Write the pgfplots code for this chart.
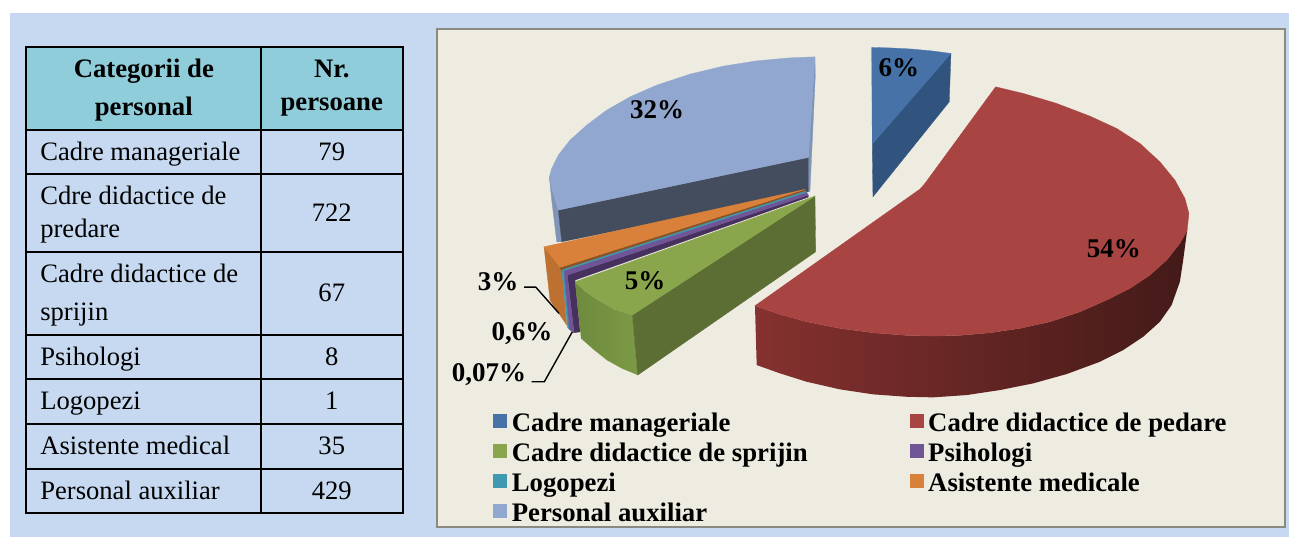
\documentclass[border=0pt]{standalone}
\usepackage{pgfplots}
\pgfplotsset{compat=1.18}
\usepackage{fontspec}
\setmainfont{Liberation Serif}
\definecolor{panel}{HTML}{C6D9F0}
\definecolor{chartbg}{HTML}{EEECE1}
\definecolor{frameg}{HTML}{8A8A80}
\definecolor{thead}{HTML}{90CDDB}
\definecolor{cblue}{HTML}{4672A8}
\definecolor{cblued}{HTML}{31547F}
\definecolor{cred}{HTML}{A84543}
\definecolor{credl}{HTML}{85312F}
\definecolor{credd}{HTML}{431A18}
\definecolor{cgreen}{HTML}{8AA64D}
\definecolor{cgreend}{HTML}{5C6E33}
\definecolor{cgreenl}{HTML}{6E8A3E}
\definecolor{cgreenm}{HTML}{7C9A45}
\definecolor{cpurple}{HTML}{6F5595}
\definecolor{cpurpled}{HTML}{45305E}
\definecolor{cteal}{HTML}{3F99B1}
\definecolor{corange}{HTML}{D9813A}
\definecolor{coranged}{HTML}{BD7030}
\definecolor{cbrown}{HTML}{8A5425}
\definecolor{clblue}{HTML}{92A7CF}
\definecolor{clblues}{HTML}{8094B8}
\definecolor{cslate}{HTML}{434D5E}
\newcommand{\poly}[2]{\addplot[forget plot, draw=#1, line width=0.3pt, fill=#1] coordinates {#2} --cycle;}
\newcommand{\tline}[1]{\addplot[forget plot, black, line width=2pt] coordinates {#1};}
\newcommand{\lab}[3]{\node[anchor=center, inner sep=0pt, font=\fontsize{27}{30}\selectfont\bfseries] at (axis cs:#1,#2) {#3};}
\newcommand{\tl}[3]{\node[anchor=base west, inner sep=0pt, font=\fontsize{26.6}{30}\selectfont] at (axis cs:#1,#2) {#3};}
\newcommand{\tc}[3]{\node[anchor=base, inner sep=0pt, font=\fontsize{26.6}{30}\selectfont] at (axis cs:#1,#2) {#3};}
\newcommand{\tb}[3]{\node[anchor=base, inner sep=0pt, font=\fontsize{26.7}{30}\selectfont\bfseries] at (axis cs:#1,#2) {#3};}
\begin{document}
\begin{tikzpicture}
\begin{axis}[
  width=1289pt, height=536pt, scale only axis,
  xmin=0, xmax=1289, ymin=0, ymax=536, y dir=reverse,
  hide axis, clip=false,
  legend cell align=left,
  legend columns=2,
  legend image code/.code={\fill[#1, draw=none] (0pt,-3pt) rectangle (14pt,11pt);},
  legend style={at={(0.3802,0.235)}, anchor=north west, draw=none, fill=none,
    font=\fontsize{26.75}{30}\selectfont\bfseries,
    nodes={inner sep=0pt, text height=19pt, text depth=6pt},
    row sep=5pt,
    /tikz/column 1/.style={column sep=4.5pt},
    /tikz/column 2/.style={column sep=102pt},
    /tikz/column 3/.style={column sep=4.5pt}},
]
% backgrounds
\poly{white}{(0,0)(1289,0)(1289,536)(0,536)}
\poly{panel}{(10,13)(1289,13)(1289,536)(10,536)}
\addplot[forget plot, draw=frameg, line width=2pt, fill=chartbg] coordinates {(437,29)(1285,29)(1285,527)(437,527)} --cycle;
% table
\poly{thead}{(26,47)(403,47)(403,130)(26,130)}
\tline{(26,47)(403,47)(403,512.5)(26,512.5)(26,46)}
\tline{(261,47)(261,512.5)}
\tline{(26,130)(403,130)}
\tline{(26,174)(403,174)}
\tline{(26,252)(403,252)}
\tline{(26,335)(403,335)}
\tline{(26,379)(403,379)}
\tline{(26,424)(403,424)}
\tline{(26,469)(403,469)}
\tb{143.7}{77.5}{Categorii de}
\tb{143.7}{115.5}{personal}
\tb{331.7}{77.5}{Nr.}
\tb{331.7}{110.5}{persoane}
\tl{40}{160}{Cadre manageriale}
\tc{331.7}{160}{79}
\tl{40}{204}{Cdre didactice de}
\tl{40}{237}{predare}
\tc{331.7}{221.5}{722}
\tl{40}{282.5}{Cadre didactice de}
\tl{40}{320.5}{sprijin}
\tc{331.7}{301.5}{67}
\tl{40}{365.5}{Psihologi}
\tc{331.7}{365.5}{8}
\tl{40}{409.5}{Logopezi}
\tc{331.7}{409.5}{1}
\tl{40}{454.5}{Asistente medical}
\tc{331.7}{454.5}{35}
\tl{40}{499}{Personal auxiliar}
\tc{331.7}{499}{429}
% light blue slice: walls first
\poly{clblues}{(549.3,176.7)(551.7,200)(556.7,241.7)(561.7,241.7)(558.3,210)}
\poly{clblues}{(815,56.7)(815.3,76)(810,191)(808.3,191.7)(808.3,157.3)}
\poly{cslate}{(558.3,210)(808.3,157.3)(808.3,191.7)(561.7,241.7)}
\poly{clblue}{(815,56.7)(790,57.7)(756.7,60.7)(723.3,66)(690,74)(656.7,85)(630,96.7)(606.7,110)(586.7,125)(570,140)(558.3,155)(551.7,168.3)(549.3,176.7)(552,190)(558.3,210)(808.3,157.3)}
% blue slice
\poly{cblued}{(951,53.3)(949.3,101.7)(873,196.7)(872.3,144)}
\poly{cblue}{(871.7,47.3)(891,47.8)(911.7,48.9)(932,50.8)(951,53.3)(872.3,144)}
% red slice
\addplot[forget plot, draw=none, left color=credl, middle color=credd!88!credl, right color=credd] coordinates {(1187.3,230)(1180,243.3)(1166.7,260)(1150,275)(1130,288.3)(1106.7,300)(1080,311.7)(1050,321.7)(1020,328.3)(990,332.7)(960,335.3)(933.3,336)(906.7,335.3)(873.3,332.7)(840,328.3)(806.7,321.7)(780,314.3)(755,305.7)(756.7,365)(780,373.3)(806.7,381.7)(840,389.3)(873.3,394.3)(906.7,396.7)(933.3,397.3)(966.7,395)(1000,390)(1033.3,383.3)(1066.7,374)(1100,361.7)(1123.3,350)(1143.3,336.7)(1160,321.7)(1171.7,305)(1180,281.7)(1183.3,260)} --cycle;
\poly{cred}{(995.7,86.7)(1023.3,93.3)(1056.7,103.3)(1090,116)(1116.7,128.3)(1140,143.3)(1160,161.7)(1175,180)(1185,198.3)(1189,213.3)(1187.3,230)(1180,243.3)(1166.7,260)(1150,275)(1130,288.3)(1106.7,300)(1080,311.7)(1050,321.7)(1020,328.3)(990,332.7)(960,335.3)(933.3,336)(906.7,335.3)(873.3,332.7)(840,328.3)(806.7,321.7)(780,314.3)(755,305.7)(920,189)(925,183.3)}
% orange slice
\poly{coranged}{(544,246.7)(550,300)(566.7,325)(561.7,267.3)}
\poly{cbrown}{(560,267.3)(805,189.3)(806,191.5)(561.7,271.7)}
\poly{corange}{(544,246.7)(805,189.3)(560,267.3)}
% logopezi
\poly{cteal}{(561.7,270)(806,191)(806.7,192.5)(564,271.5)}
\poly{cteal}{(561.7,270)(564,270.5)(569.3,329.3)(567.5,327.5)}
% psihologi
\poly{cpurpled}{(567.3,275)(808.3,195)(808.3,197)(575,280)(580,331.7)(574,332.7)}
\poly{cpurple}{(564,271)(806.7,192.5)(808.3,195)(567.3,275)}
\poly{cpurple}{(564,271)(567.3,275)(574,332.7)(569.3,329.3)}
% green slice
\addplot[forget plot, draw=none, left color=cgreenl, right color=cgreenm] coordinates {(575,281.7)(581,338.3)(593,349)(606.7,360)(622,368.5)(637.7,375)(632.3,315)(614,309)(596.7,299)(585,291)} --cycle;
\poly{cgreend}{(815,196)(815.7,251.7)(637.7,375)(632.3,315)}
\poly{cgreen}{(575,281.7)(815,196)(632.3,315)(614,309)(596.7,299)(585,291)}
% leader lines
\addplot[forget plot, black, line width=1.4pt] coordinates {(524,287)(535.7,287)(559,313.3)};
\addplot[forget plot, black, line width=1.4pt] coordinates {(531.7,381.7)(544.3,381.7)(572.3,331.7)};
% labels
\lab{899}{68}{6\%}
\lab{1114}{249}{54\%}
\lab{657}{110}{32\%}
\lab{645}{281}{5\%}
\lab{498}{282}{3\%}
\lab{522}{334}{0,6\%}
\lab{489}{375}{0,07\%}
% legend
\addlegendimage{fill=cblue}\addlegendentry{Cadre manageriale}
\addlegendimage{fill=cred}\addlegendentry{Cadre didactice de pedare}
\addlegendimage{fill=cgreen}\addlegendentry{Cadre didactice de sprijin}
\addlegendimage{fill=cpurple}\addlegendentry{Psihologi}
\addlegendimage{fill=cteal}\addlegendentry{Logopezi}
\addlegendimage{fill=corange}\addlegendentry{Asistente medicale}
\addlegendimage{fill=clblue}\addlegendentry{Personal auxiliar}
\end{axis}
\end{tikzpicture}
\end{document}
